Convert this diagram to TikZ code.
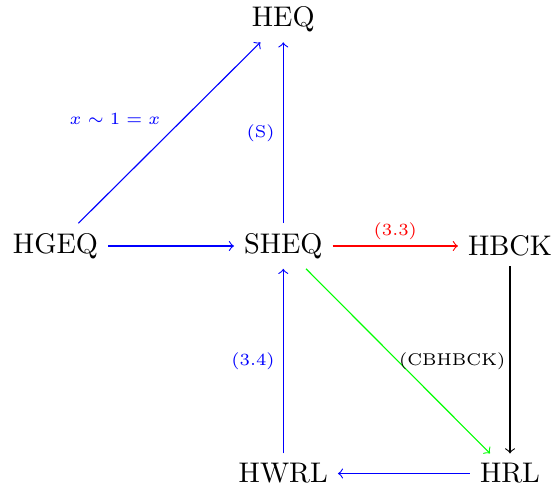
\documentclass[tikz,border=0pt]{standalone}
\begin{document}
\begin{tikzpicture}[x=0.35211pt, y=-0.35211pt]
\tikzset{
  obj/.style={font=\normalsize, inner sep=.3333em},
  arr/.style={->, line width=0.4pt},
  lab/.style={font=\fontsize{6}{7}\selectfont, inner sep=1pt},
}
\useasboundingbox (0,0) rectangle (554,488);
\node[obj] (HEQ)  at (283.3,19.5) {HEQ};
\node[obj] (HGEQ) at (55.5,246) {HGEQ};
\node[obj] (SHEQ) at (283.3,246) {SHEQ};
\node[obj] (HBCK) at (510,246) {HBCK};
\node[obj] (HWRL) at (283.3,473.5) {HWRL};
\node[obj] (HRL)  at (510,473.5) {HRL};

\draw[arr, blue] (HGEQ) -- node[lab, anchor=south east, xshift=-2pt, yshift=1.7pt] {$x\sim1=x$} (HEQ);
\draw[arr, blue] (SHEQ) -- node[lab, left=1.85pt] {(S)} (HEQ);
\draw[arr, blue] (HGEQ) -- (SHEQ);
\draw[arr, red] (SHEQ) -- node[lab, above=1pt] {(3.3)} (HBCK);
\draw[arr] (HBCK) -- (HRL);
\draw[arr, green] (SHEQ) -- node[lab, text=black, anchor=west, xshift=-0.8pt] {(CBHBCK)} (HRL);
\draw[arr, blue] (HRL) -- (HWRL);
\draw[arr, blue] (HWRL) -- node[lab, left=1.85pt] {(3.4)} (SHEQ);
\end{tikzpicture}
\end{document}
